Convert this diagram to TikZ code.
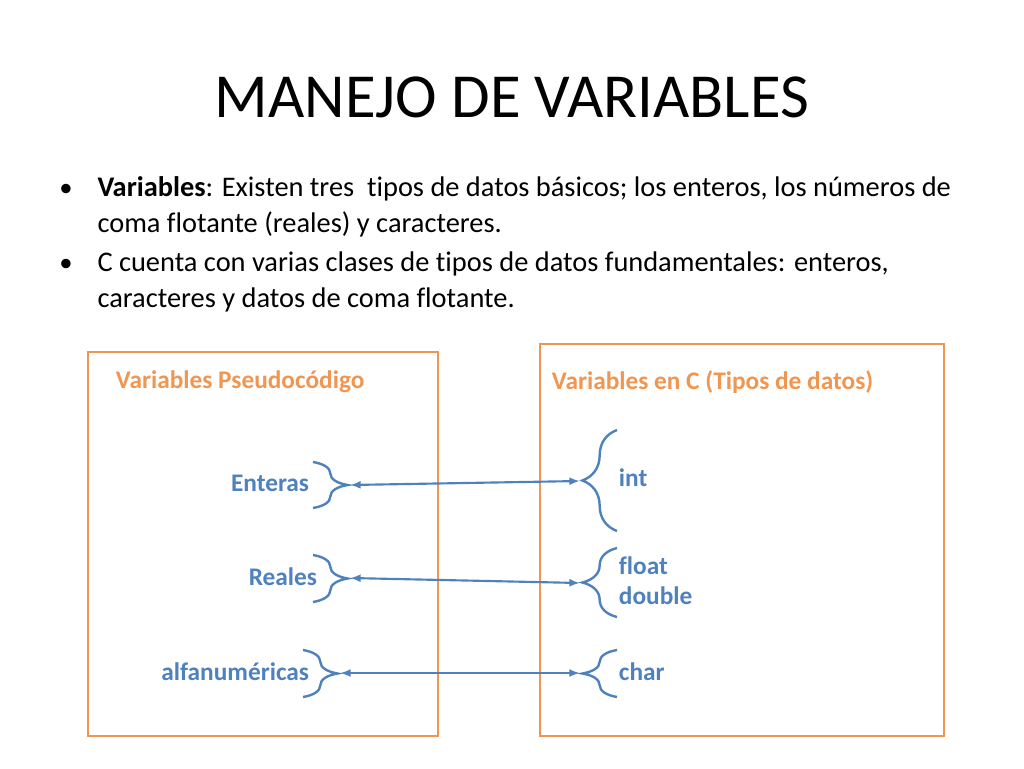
\documentclass[tikz,border=0pt]{standalone}
\usepackage{fontspec}
\setmainfont[RawFeature={-liga}]{Carlito}
\usetikzlibrary{decorations.pathreplacing,arrows.meta}
\definecolor{boxorange}{RGB}{240,150,80}
\definecolor{varblue}{RGB}{79,129,189}
\tikzset{every picture/.style={line width=0.75pt}}
\tikzset{
  typebox/.style={draw=boxorange,line width=2.2pt},
  head/.style={text=boxorange,font=\fontsize{19}{22}\selectfont\bfseries,anchor=west},
  varlabel/.style={text=varblue,font=\fontsize{19}{22.5}\selectfont\bfseries},
  curly/.style={draw=varblue,line width=1.8pt,decorate,decoration={brace,amplitude=26pt}},
  link/.style={draw=varblue,line width=1.6pt,{Latex[length=8pt,width=6pt]}-{Latex[length=8pt,width=6pt]}},
  bullettext/.style={anchor=north west,align=left,font=\fontsize{21.3}{27}\selectfont,inner sep=0pt}
}
\begin{document}
\begin{tikzpicture}[x=0.75pt,y=0.75pt,yscale=-1,xscale=1]
\useasboundingbox (0,0) rectangle (1024,768);

% Title
\node (title) at (512,97) {\fontsize{47}{56}\selectfont MANEJO DE VARIABLES};

% Bullets
\node (dotone) at (66,190) {\fontsize{20}{27}\selectfont •};
\node[bullettext] (textone) at (97,176) {\textbf{Variables}: Existen tres\ \ tipos de datos básicos; los enteros, los números de\\coma flotante (reales) y caracteres.};
\node (dottwo) at (66,265) {\fontsize{20}{27}\selectfont •};
\node[bullettext] (texttwo) at (97,251) {C cuenta con varias clases de tipos de datos fundamentales: enteros,\\caracteres y datos de coma flotante.};

% Boxes
\draw[typebox] (88,352) rectangle (438,736);
\draw[typebox] (540,344) rectangle (944,736);
\node[head] (pseudo) at (111,382) {Variables Pseudocódigo};
\node[head] (ctypes) at (547,382) {Variables en C (Tipos de datos)};

% Left braces
\draw[curly] (313,462) -- (313,508);
\draw[curly] (313,555) -- (313,602);
\draw[curly] (303,650) -- (303,697);
\coordinate (enttip) at (350,485);
\coordinate (realtip) at (350,578);
\coordinate (alfatip) at (340,673);

% Right braces
\draw[curly] (617,531) -- (617,430);
\draw[curly] (617,617) -- (617,548);
\draw[curly] (617,697) -- (617,650);
\coordinate (inttip) at (580,481);
\coordinate (floattip) at (580,583);
\coordinate (chartip) at (580,673);

% Labels
\node[varlabel,anchor=east] (enteras) at (314,483) {Enteras};
\node[varlabel,anchor=east] (reales) at (322,577) {Reales};
\node[varlabel,anchor=east] (alfa) at (314,672) {alfanuméricas};
\node[varlabel,anchor=west] (int) at (614,478) {int};
\node[varlabel,anchor=west,align=left] (float) at (614,581) {float\\double};
\node[varlabel,anchor=west] (char) at (614,672) {char};

% Connectors
\draw[link] (enttip) -- (inttip);
\draw[link] (realtip) -- (floattip);
\draw[link] (alfatip) -- (chartip);

\end{tikzpicture}
\end{document}
